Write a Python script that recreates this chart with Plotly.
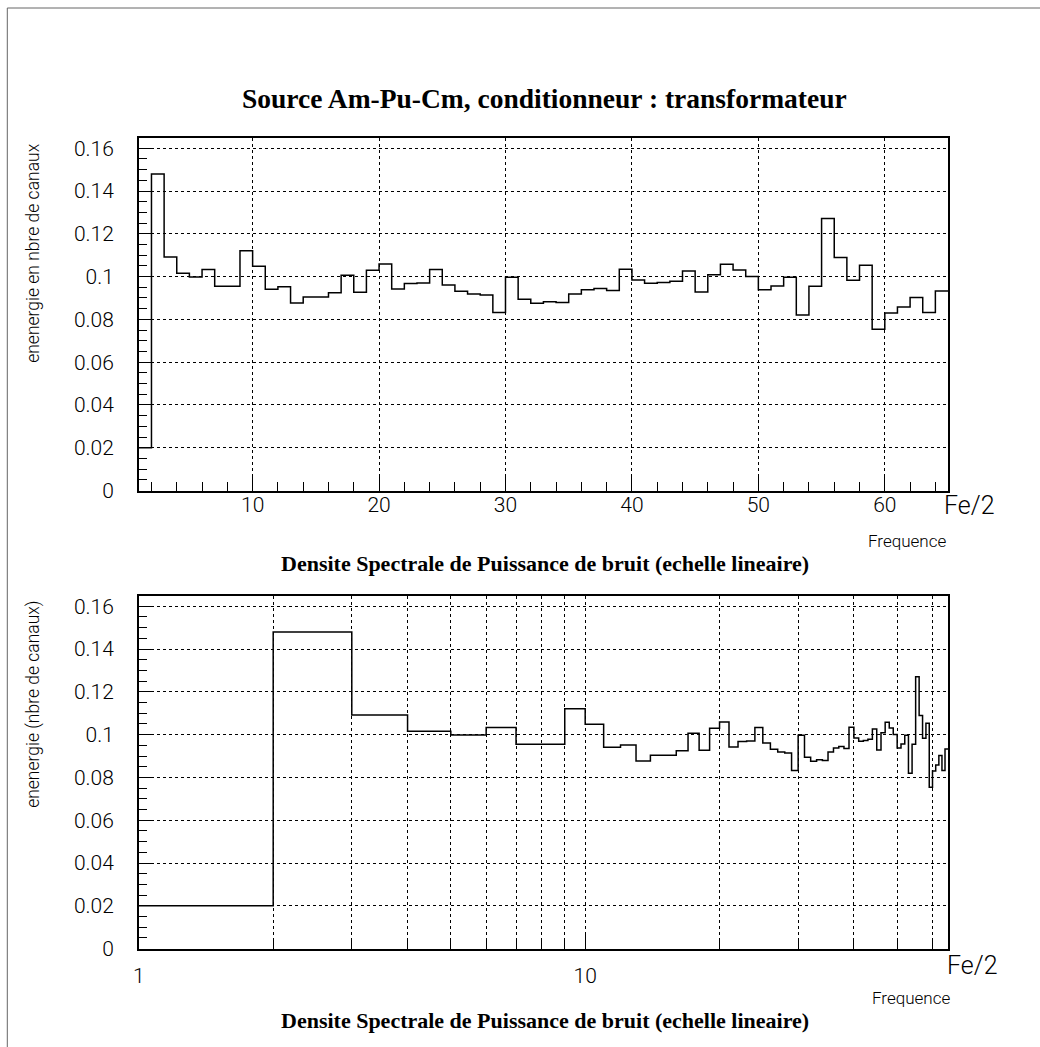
import numpy as np
import plotly.graph_objects as go

# ---- data ----
bin_edges = np.arange(1, 66)  # 64 bins of width 1, from 1 to 65 (Fe/2)
energie = [0.020, 0.148, 0.1092, 0.1016, 0.0998, 0.1033, 0.0955, 0.0955, 0.1121, 0.1048,
           0.0941, 0.0952, 0.0877, 0.0904, 0.0904, 0.0925, 0.1006, 0.0927, 0.1030, 0.1059,
           0.0942, 0.0968, 0.0970, 0.1033, 0.0961, 0.0932, 0.0919, 0.0914, 0.0832, 0.0997,
           0.0894, 0.0875, 0.0882, 0.0879, 0.0919, 0.0938, 0.0944, 0.0935, 0.1034, 0.0984,
           0.0969, 0.0972, 0.0978, 0.1026, 0.0928, 0.1009, 0.1058, 0.1031, 0.1000, 0.0938,
           0.0956, 0.0997, 0.0820, 0.0955, 0.1271, 0.1089, 0.0983, 0.1053, 0.0754, 0.0830,
           0.0858, 0.0902, 0.0832, 0.0933]
lin_ticks = [10, 20, 30, 40, 50, 60]
log_major = [1, 10]
log_minor = [2, 3, 4, 5, 6, 7, 8, 9, 20, 30, 40, 50, 60]
y_ticks = [0, 0.02, 0.04, 0.06, 0.08, 0.1, 0.12, 0.14, 0.16]

title_main = "Source Am-Pu-Cm, conditionneur : transformateur"
title_sub = "Densite Spectrale de Puissance de bruit (echelle lineaire)"
ytitle_top = "enenergie en nbre de canaux"
ytitle_bot = "enenergie (nbre de canaux)"

# full-size figure; body margin removed after plotting.
# target positions (final picture pixels) are mapped to page pixels, then paper coords
W, H = 1040, 1047
SX, OX = 0.994, 6.2
SY, OY = 0.9875, 0.5
def px(X):
    return ((X - OX) / SX) / W
def py(Y):
    return 1 - ((Y - OY) / SY) / H

y_hist = list(energie) + [energie[-1]]

SANS = "Roboto, DejaVu Sans"
SERIF = "Liberation Serif, Times New Roman, serif"
tickfont = dict(family=SANS, size=21, color="black", weight=300)

fig = go.Figure()
fig.add_trace(go.Scatter(x=bin_edges, y=y_hist, mode="lines", line_shape="hv",
                         line=dict(color="black", width=1.5), xaxis="x", yaxis="y",
                         showlegend=False, hoverinfo="skip"))
fig.add_trace(go.Scatter(x=bin_edges, y=y_hist, mode="lines", line_shape="hv",
                         line=dict(color="black", width=1.5), xaxis="x2", yaxis="y2",
                         showlegend=False, hoverinfo="skip"))

xdom = [px(139), px(948)]
yaxis_common = dict(range=[0, 0.165], tickvals=y_ticks, ticks="inside", ticklen=15,
                    tickwidth=1, tickcolor="black", showline=True, linecolor="black",
                    linewidth=1.5, mirror=True, showgrid=True, gridcolor="black",
                    griddash="dot", gridwidth=1, zeroline=False, tickfont=tickfont,
                    ticklabelstandoff=19,
                    minor=dict(dtick=0.005, tick0=0, ticks="inside", ticklen=8,
                               tickcolor="black", showgrid=False))

fig.update_layout(
    width=W, height=H, autosize=False,
    margin=dict(l=0, r=0, t=0, b=0),
    paper_bgcolor="white", plot_bgcolor="white",
    font=dict(color="black", family=SANS),
    xaxis=dict(domain=xdom, anchor="y", range=[1, 65], tickvals=lin_ticks,
               ticks="inside", ticklen=15, tickcolor="black", showline=True,
               linecolor="black", linewidth=1.5, mirror=True, showgrid=True,
               gridcolor="black", griddash="dot", gridwidth=1, zeroline=False,
               tickfont=tickfont, ticklabelstandoff=-5,
               minor=dict(tick0=0, dtick=2, ticks="inside", ticklen=9,
                          tickcolor="black", showgrid=False)),
    yaxis=dict(domain=[py(490), py(137)], anchor="x", **yaxis_common),
    xaxis2=dict(domain=xdom, anchor="y2", type="log", range=[0, np.log10(65)],
                tickvals=log_major, ticktext=["1", "10"], ticks="inside", ticklen=15,
                tickcolor="black", showline=True, linecolor="black", linewidth=1.5,
                mirror=True, showgrid=True, gridcolor="black", griddash="dot",
                gridwidth=1, zeroline=False, tickfont=tickfont, ticklabelstandoff=7,
                minor=dict(tickvals=log_minor, ticks="inside", ticklen=9,
                           tickcolor="black", showgrid=True, gridcolor="black",
                           griddash="dot", gridwidth=1)),
    yaxis2=dict(domain=[py(948), py(595)], anchor="x2", **yaxis_common),
)

lab = dict(family=SANS, weight=300, color="black")
annots = [
    dict(text="<b>%s</b>" % title_main, x=px(545), y=py(98), font=dict(family=SERIF, size=27.5, color="black")),
    dict(text="<b>%s</b>" % title_sub, x=px(545), y=py(563), font=dict(family=SERIF, size=22, color="black")),
    dict(text="<b>%s</b>" % title_sub, x=px(545), y=py(1020), font=dict(family=SERIF, size=22, color="black")),
    dict(text="Fe/2", x=px(969), y=py(505), font=dict(size=25, **lab)),
    dict(text="Fe/2", x=px(972), y=py(965), font=dict(size=25, **lab)),
    dict(text="Frequence", x=px(948), y=py(540), xanchor="right", font=dict(size=17, **lab)),
    dict(text="Frequence", x=px(952), y=py(997), xanchor="right", font=dict(size=17, **lab)),
    dict(text=ytitle_top, x=px(33), y=py(141), yanchor="top", textangle=-90,
         font=dict(size=17.5, **lab)),
    dict(text=ytitle_bot, x=px(33), y=py(598), yanchor="top", textangle=-90,
         font=dict(size=17.5, **lab)),
]
for a in annots:
    a.setdefault("xanchor", "center")
    a.setdefault("yanchor", "middle")
    fig.add_annotation(xref="paper", yref="paper", showarrow=False, **a)

# thin page border (left and top edges visible)
fig.add_shape(type="rect", xref="paper", yref="paper", x0=px(7.5), y0=py(7.5), x1=px(1100),
              y1=py(1100), line=dict(color="#666666", width=1))

fig.write_html("out.html", config={"displayModeBar": False},
               post_script="document.body.style.margin='0';document.body.style.overflow='hidden';")
